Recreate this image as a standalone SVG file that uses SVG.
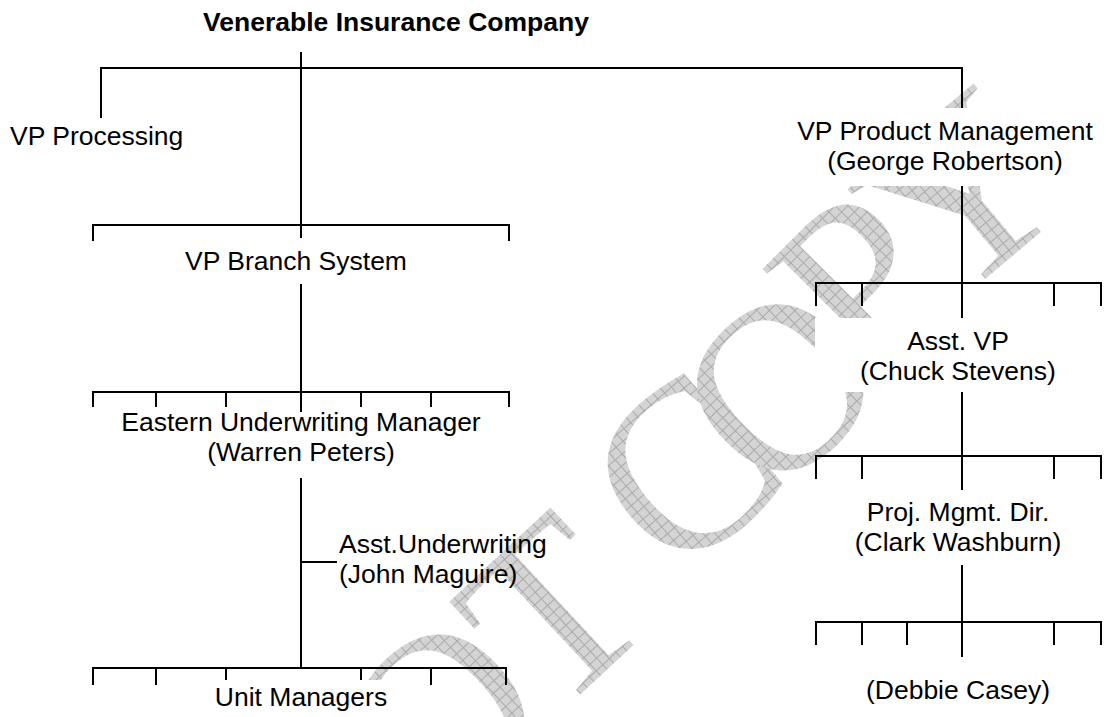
<svg xmlns="http://www.w3.org/2000/svg" width="1106" height="717" viewBox="0 0 1106 717">
<defs>
<pattern id="hatch" width="9" height="9" patternUnits="userSpaceOnUse">
<rect width="9" height="9" fill="#d4d4d4"/>
<path d="M0 0.5H9M0.5 0V9" stroke="#aaaaaa" stroke-width="1"/>
</pattern>
</defs>
<style>
.wm{font-family:"Liberation Serif","Times New Roman",serif;font-size:240px;fill:url(#hatch);text-anchor:middle}
.lbl{font-family:"Liberation Sans",Arial,sans-serif;font-size:26.5px;fill:#000}
.c{text-anchor:middle}
.t{font-weight:bold}
.bg{fill:#fff}
.ln{fill:none;stroke:#000;stroke-width:2}
</style>
<rect width="1106" height="717" fill="#fff"/>
<g id="watermark">
<text class="wm" transform="translate(441,717) rotate(-43)" y="79">O</text>
<text class="wm" transform="translate(553,612) rotate(-43)" y="79">T</text>
<text class="wm" transform="translate(684,471) rotate(-41)" y="79">C</text>
<text class="wm" transform="translate(780,387) rotate(-44)" y="79">O</text>
<text class="wm" transform="translate(860,282) rotate(-45)" y="79">P</text>
<text class="wm" transform="translate(962,195) rotate(-40)" y="79">Y</text>
</g>
<g id="connectors" class="ln">
<path d="M301 52V238"/>
<path d="M101 118V68H962V108"/>
<path d="M962 186V283"/>
<path d="M93 241V225H509V241"/>
<path d="M301 284V392"/>
<path d="M93 407V392H509V407M156 392V407M226 392V407M361 392V407M431 392V407M301 392V412"/>
<path d="M301 478V668"/>
<path d="M301 562H337"/>
<path d="M93 685V668H506V685M156 668V685M226 668V685M361 668V685M431 668V685"/>
<path d="M816 306V283H1101V306M862 283V306M1054 283V306M962 283V318"/>
<path d="M962 392V456"/>
<path d="M816 479V456H1101V479M862 456V479M1054 456V479M962 456V490"/>
<path d="M962 565V622"/>
<path d="M816 645V622H1101V645M862 622V645M907 622V645M1054 622V645M962 622V657"/>
</g>
<g id="company"><text class="lbl c t" x="396" y="31">Venerable Insurance Company</text></g>
<g id="vp-processing"><text class="lbl" x="10" y="145">VP Processing</text></g>
<g id="vp-product"><rect class="bg" x="775" y="108" width="331" height="78"/>
<text class="lbl c" x="945" y="140">VP Product Management</text>
<text class="lbl c" x="945" y="170">(George Robertson)</text></g>
<g id="vp-branch"><text class="lbl c" x="296" y="270">VP Branch System</text></g>
<g id="eastern"><text class="lbl c" x="301" y="431">Eastern Underwriting Manager</text>
<text class="lbl c" x="301" y="461">(Warren Peters)</text></g>
<g id="asst-underwriting"><text class="lbl" x="339" y="553">Asst.Underwriting</text>
<text class="lbl" x="339" y="583">(John Maguire)</text></g>
<g id="unit-managers"><rect class="bg" x="190" y="680" width="210" height="37"/>
<text class="lbl c" x="301" y="706">Unit Managers</text></g>
<g id="asst-vp"><rect class="bg" x="815" y="318" width="288" height="74"/>
<text class="lbl c" x="958" y="350">Asst. VP</text>
<text class="lbl c" x="958" y="380">(Chuck Stevens)</text></g>
<g id="proj-mgmt"><text class="lbl c" x="958" y="521">Proj. Mgmt. Dir.</text>
<text class="lbl c" x="958" y="551">(Clark Washburn)</text></g>
<g id="debbie"><text class="lbl c" x="958" y="699">(Debbie Casey)</text></g>
</svg>
